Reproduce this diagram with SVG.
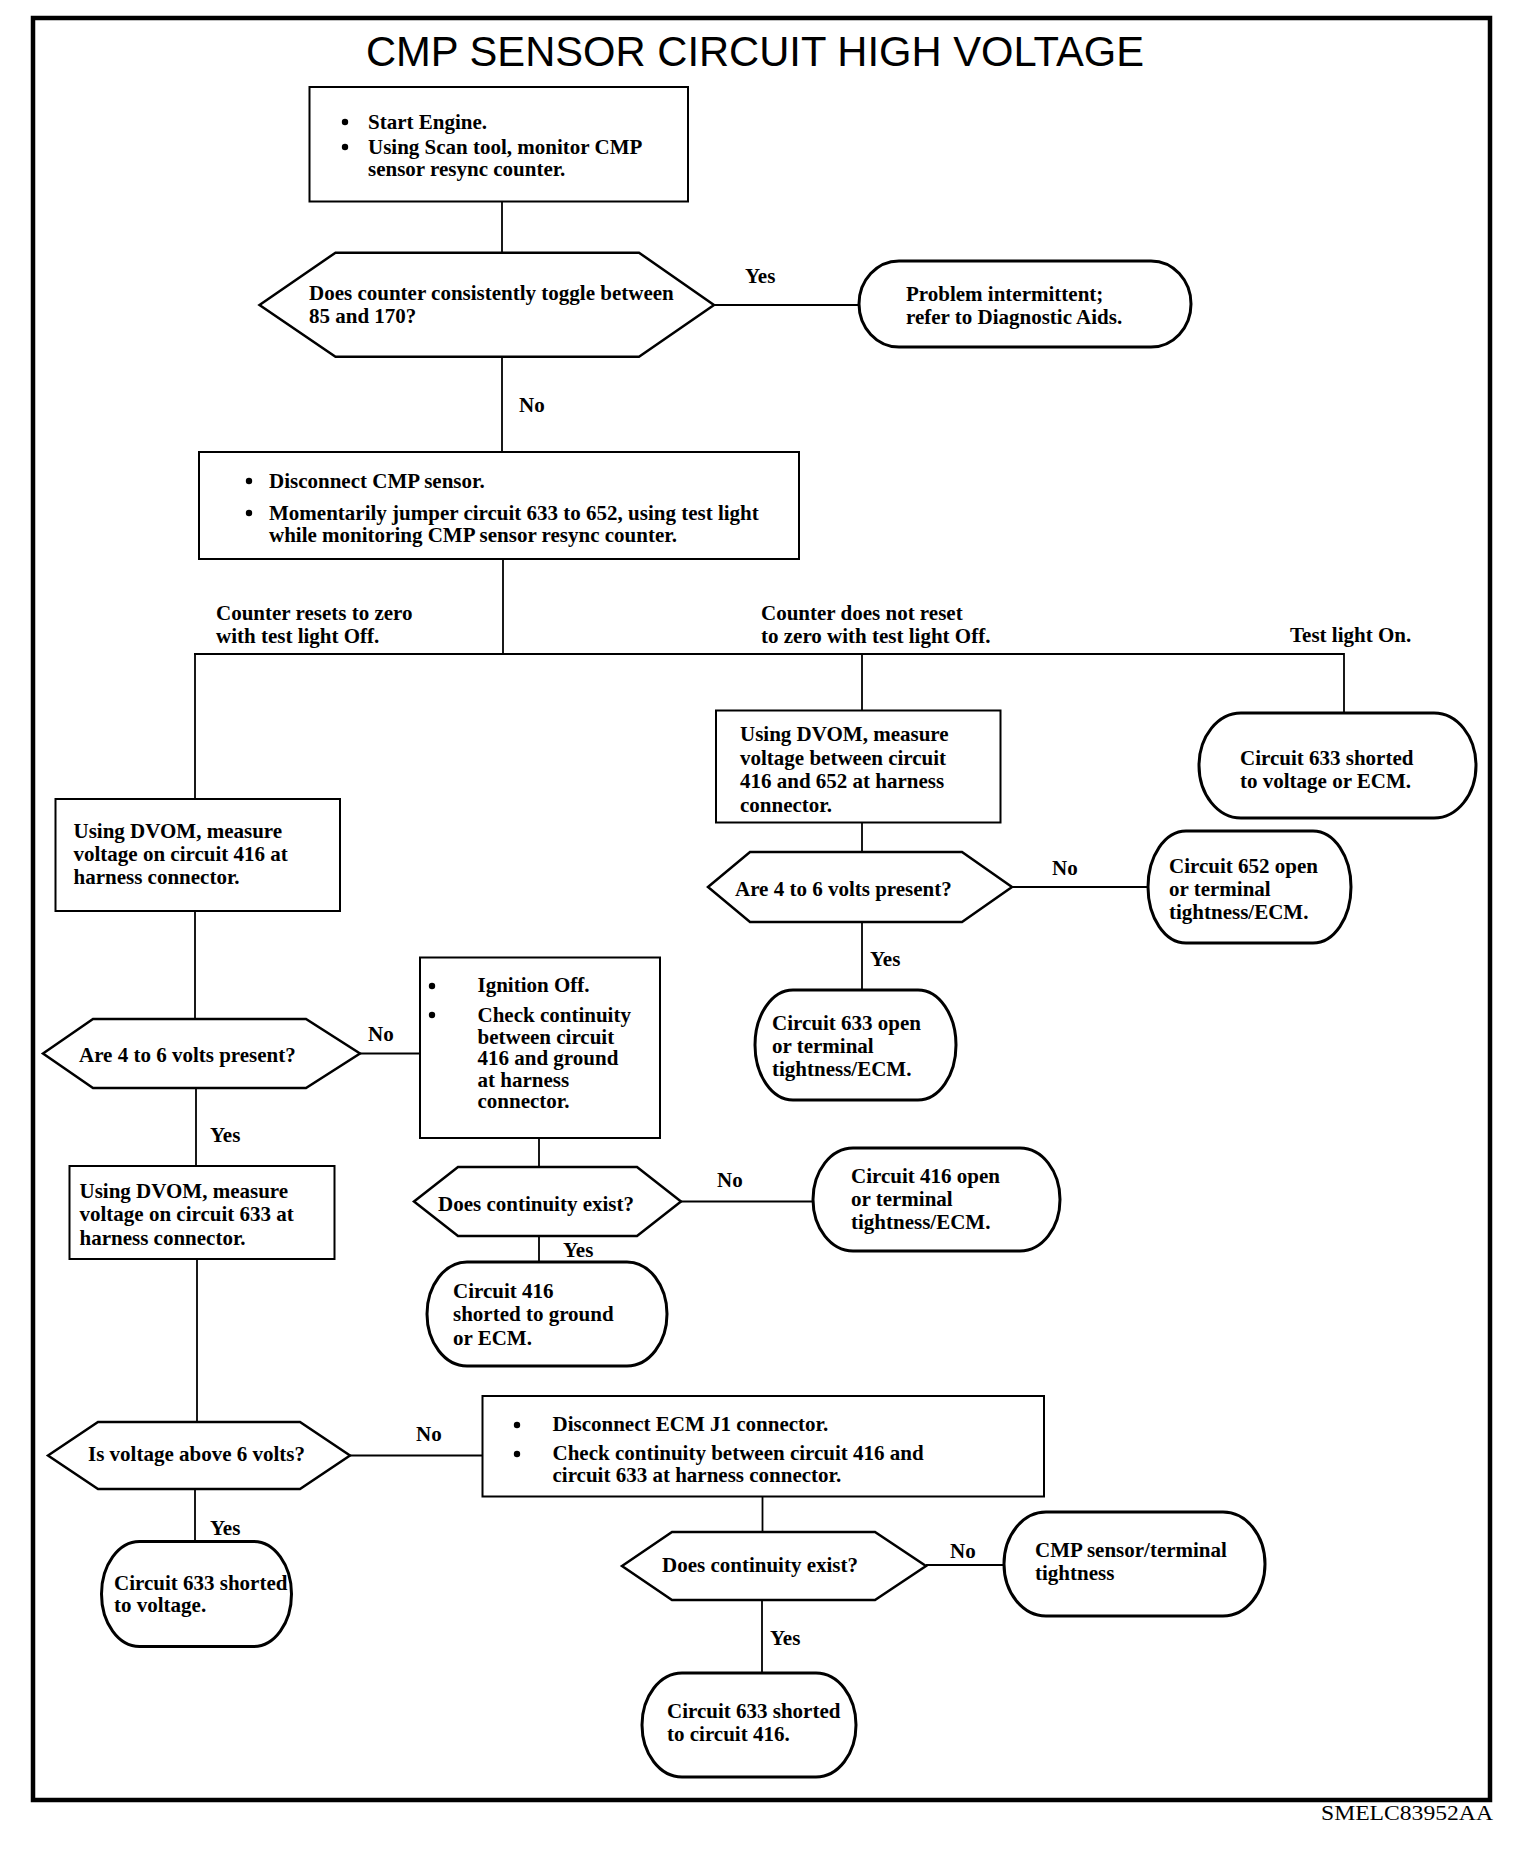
<svg xmlns="http://www.w3.org/2000/svg" width="1536" height="1850" viewBox="0 0 1536 1850">
<style>
.t{font-family:"Liberation Serif","Times New Roman",serif;font-size:21px;font-weight:bold;fill:#000}
.title{font-family:"Liberation Sans",Arial,sans-serif;font-size:42px;fill:#000}
.box{fill:#fff;stroke:#000;stroke-width:2}
.dec{fill:#fff;stroke:#000;stroke-width:2.5;stroke-linejoin:miter}
.term{fill:#fff;stroke:#000;stroke-width:3}
.conn line{stroke:#000;stroke-width:1.8}
.bul{fill:#000}
</style>
<rect x="0" y="0" width="1536" height="1850" fill="#fff"/>
<rect x="33" y="18" width="1457" height="1782" fill="none" stroke="#000" stroke-width="4.5"/>
<text class="title" x="366" y="66" textLength="778" lengthAdjust="spacingAndGlyphs">CMP SENSOR CIRCUIT HIGH VOLTAGE</text>

<g id="connectors" class="conn">
<line x1="502" y1="201.5" x2="502" y2="252.7"/>
<line x1="714" y1="305" x2="859" y2="305"/>
<line x1="502" y1="356.7" x2="502" y2="452"/>
<line x1="503" y1="559" x2="503" y2="654"/>
<line x1="194" y1="654" x2="1344" y2="654"/>
<line x1="195" y1="653" x2="195" y2="799"/>
<line x1="862" y1="654" x2="862" y2="710.5"/>
<line x1="1344" y1="653" x2="1344" y2="713"/>
<line x1="862" y1="822.5" x2="862" y2="852"/>
<line x1="1012" y1="887" x2="1148" y2="887"/>
<line x1="862" y1="922" x2="862" y2="990"/>
<line x1="195" y1="911" x2="195" y2="1019"/>
<line x1="360" y1="1053.5" x2="420" y2="1053.5"/>
<line x1="196" y1="1088" x2="196" y2="1166"/>
<line x1="539" y1="1138" x2="539" y2="1167"/>
<line x1="681" y1="1201.5" x2="813" y2="1201.5"/>
<line x1="539" y1="1236" x2="539" y2="1262"/>
<line x1="197" y1="1259" x2="197" y2="1422"/>
<line x1="350" y1="1455.5" x2="482.5" y2="1455.5"/>
<line x1="195" y1="1489" x2="195" y2="1541.5"/>
<line x1="762.5" y1="1496.5" x2="762.5" y2="1532"/>
<line x1="926" y1="1565" x2="1004" y2="1565"/>
<line x1="762" y1="1600" x2="762" y2="1673"/>
</g>

<g id="labels">
<text class="t" x="745" y="283">Yes</text>
<text class="t" x="519" y="412">No</text>
<text class="t" x="216" y="620">Counter resets to zero</text>
<text class="t" x="216" y="643">with test light Off.</text>
<text class="t" x="761" y="620">Counter does not reset</text>
<text class="t" x="761" y="643">to zero with test light Off.</text>
<text class="t" x="1290" y="642">Test light On.</text>
<text class="t" x="1052" y="875">No</text>
<text class="t" x="870" y="966">Yes</text>
<text class="t" x="368" y="1041">No</text>
<text class="t" x="210" y="1142">Yes</text>
<text class="t" x="717" y="1187">No</text>
<text class="t" x="563" y="1257">Yes</text>
<text class="t" x="416" y="1441">No</text>
<text class="t" x="210" y="1535">Yes</text>
<text class="t" x="950" y="1558">No</text>
<text class="t" x="770" y="1645">Yes</text>
</g>

<g id="box1">
<rect class="box" x="309.5" y="87" width="378.5" height="114.5"/>
<circle class="bul" cx="345" cy="122" r="3.2"/>
<circle class="bul" cx="345" cy="147" r="3.2"/>
<text class="t" x="368" y="129">Start Engine.</text>
<text class="t" x="368" y="154">Using Scan tool, monitor CMP</text>
<text class="t" x="368" y="176">sensor resync counter.</text>
</g>

<g id="dec1">
<polygon class="dec" points="259.5,305 335.5,252.7 639,252.7 714,305 639,356.7 335.5,356.7"/>
<text class="t" x="309" y="300">Does counter consistently toggle between</text>
<text class="t" x="309" y="323">85 and 170?</text>
</g>

<g id="term1">
<rect class="term" x="859" y="261" width="332" height="86" rx="40" ry="43"/>
<text class="t" x="906" y="301">Problem intermittent;</text>
<text class="t" x="906" y="324">refer to Diagnostic Aids.</text>
</g>

<g id="box2">
<rect class="box" x="199" y="452" width="600" height="107"/>
<circle class="bul" cx="249" cy="481" r="3.2"/>
<circle class="bul" cx="249" cy="513" r="3.2"/>
<text class="t" x="269" y="488">Disconnect CMP sensor.</text>
<text class="t" x="269" y="520">Momentarily jumper circuit 633 to 652, using test light</text>
<text class="t" x="269" y="542">while monitoring CMP sensor resync counter.</text>
</g>

<g id="box3">
<rect class="box" x="55.5" y="799" width="284.5" height="112"/>
<text class="t" x="73.5" y="838">Using DVOM, measure</text>
<text class="t" x="73.5" y="861">voltage on circuit 416 at</text>
<text class="t" x="73.5" y="884">harness connector.</text>
</g>

<g id="box4">
<rect class="box" x="716" y="710.5" width="284.5" height="112"/>
<text class="t" x="740" y="741">Using DVOM, measure</text>
<text class="t" x="740" y="765">voltage between circuit</text>
<text class="t" x="740" y="788">416 and 652 at harness</text>
<text class="t" x="740" y="812">connector.</text>
</g>

<g id="term2">
<rect class="term" x="1199" y="713" width="277" height="105" rx="42" ry="52.5"/>
<text class="t" x="1240" y="765">Circuit 633 shorted</text>
<text class="t" x="1240" y="788">to voltage or ECM.</text>
</g>

<g id="dec2">
<polygon class="dec" points="708,887 750,852 962,852 1012,887 962,922 750,922"/>
<text class="t" x="735" y="896">Are 4 to 6 volts present?</text>
</g>

<g id="term3">
<rect class="term" x="1148" y="831" width="203" height="112" rx="38" ry="56"/>
<text class="t" x="1169" y="873">Circuit 652 open</text>
<text class="t" x="1169" y="896">or terminal</text>
<text class="t" x="1169" y="919">tightness/ECM.</text>
</g>

<g id="term4">
<rect class="term" x="755" y="990" width="201" height="110" rx="38" ry="55"/>
<text class="t" x="772" y="1030">Circuit 633 open</text>
<text class="t" x="772" y="1053">or terminal</text>
<text class="t" x="772" y="1076">tightness/ECM.</text>
</g>

<g id="dec3">
<polygon class="dec" points="43,1053.5 93,1019 306,1019 360,1053.5 306,1088 93,1088"/>
<text class="t" x="79" y="1062">Are 4 to 6 volts present?</text>
</g>

<g id="box5">
<rect class="box" x="420" y="957.5" width="240" height="180.5"/>
<circle class="bul" cx="432" cy="986" r="3.2"/>
<circle class="bul" cx="432" cy="1015" r="3.2"/>
<text class="t" x="477.5" y="992">Ignition Off.</text>
<text class="t" x="477.5" y="1022">Check continuity</text>
<text class="t" x="477.5" y="1044">between circuit</text>
<text class="t" x="477.5" y="1065">416 and ground</text>
<text class="t" x="477.5" y="1087">at harness</text>
<text class="t" x="477.5" y="1108">connector.</text>
</g>

<g id="dec4">
<polygon class="dec" points="414,1201.5 458,1167 637,1167 681,1201.5 637,1236 458,1236"/>
<text class="t" x="438" y="1211">Does continuity exist?</text>
</g>

<g id="term5">
<rect class="term" x="813" y="1148" width="247" height="103" rx="40" ry="51.5"/>
<text class="t" x="851" y="1183">Circuit 416 open</text>
<text class="t" x="851" y="1206">or terminal</text>
<text class="t" x="851" y="1229">tightness/ECM.</text>
</g>

<g id="term6">
<rect class="term" x="427" y="1262" width="240" height="104" rx="40" ry="52"/>
<text class="t" x="453" y="1298">Circuit 416</text>
<text class="t" x="453" y="1321">shorted to ground</text>
<text class="t" x="453" y="1345">or ECM.</text>
</g>

<g id="box6">
<rect class="box" x="69.5" y="1166" width="265" height="93"/>
<text class="t" x="79.5" y="1198">Using DVOM, measure</text>
<text class="t" x="79.5" y="1221">voltage on circuit 633 at</text>
<text class="t" x="79.5" y="1245">harness connector.</text>
</g>

<g id="dec5">
<polygon class="dec" points="48,1455.5 98,1422 300,1422 350,1455.5 300,1489 98,1489"/>
<text class="t" x="88" y="1461">Is voltage above 6 volts?</text>
</g>

<g id="box7">
<rect class="box" x="482.5" y="1396" width="561.5" height="100.5"/>
<circle class="bul" cx="517" cy="1425" r="3.2"/>
<circle class="bul" cx="517" cy="1454" r="3.2"/>
<text class="t" x="552.5" y="1431">Disconnect ECM J1 connector.</text>
<text class="t" x="552.5" y="1460">Check continuity between circuit 416 and</text>
<text class="t" x="552.5" y="1482">circuit 633 at harness connector.</text>
</g>

<g id="term9">
<rect class="term" x="101.5" y="1541.5" width="190" height="105" rx="38" ry="52.5"/>
<text class="t" x="114" y="1590">Circuit 633 shorted</text>
<text class="t" x="114" y="1612">to voltage.</text>
</g>

<g id="dec6">
<polygon class="dec" points="622,1566 672,1532 875,1532 926,1566 875,1600 672,1600"/>
<text class="t" x="662" y="1572">Does continuity exist?</text>
</g>

<g id="term7">
<rect class="term" x="1004" y="1512" width="261" height="104" rx="42" ry="52"/>
<text class="t" x="1035" y="1557">CMP sensor/terminal</text>
<text class="t" x="1035" y="1580">tightness</text>
</g>

<g id="term8">
<rect class="term" x="642" y="1673" width="214" height="104" rx="40" ry="52"/>
<text class="t" x="667" y="1718">Circuit 633 shorted</text>
<text class="t" x="667" y="1741">to circuit 416.</text>
</g>

<text class="t" x="1321" y="1820" textLength="172" lengthAdjust="spacingAndGlyphs" style="font-weight:normal;font-size:22px">SMELC83952AA</text>
</svg>
